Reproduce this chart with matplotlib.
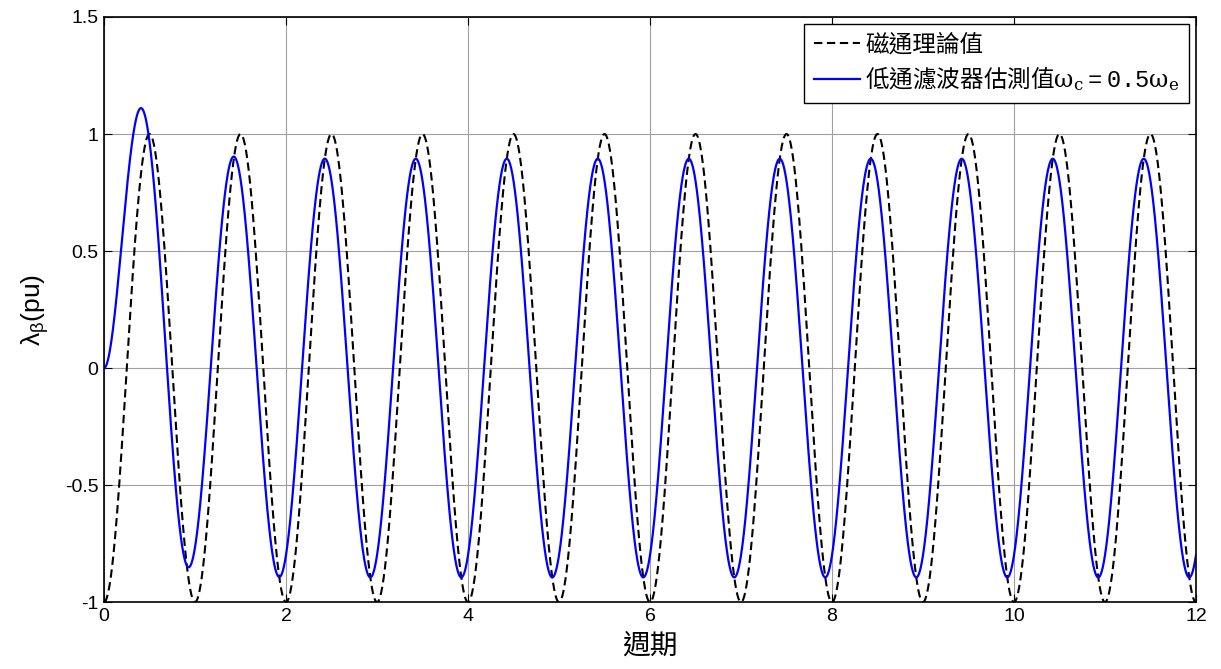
import numpy as np
import matplotlib
matplotlib.use("Agg")
import matplotlib.pyplot as plt

# ---- data ----
n_cycles = 12                 # x axis: 0..12 cycles
wc_over_we = 0.5              # legend: omega_c = 0.5 omega_e
flux_amplitude = 1.0          # theoretical flux peak (pu)
samples_per_cycle = 400
x_ticks = [0, 2, 4, 6, 8, 10, 12]
y_ticks = [-1, -0.5, 0, 0.5, 1, 1.5]
y_tick_labels = ["-1", "-0.5", "0", "0.5", "1", "1.5"]
legend_labels = ["磁通理論值",
                 r"低通濾波器估測值$\mathrm{\omega}_{\mathrm{c}}\mathtt{{=}0.5}\mathrm{\omega}_{\mathrm{e}}$"]
xlabel = "週期"
ylabel = r"λ$_{\mathregular{β}}$(pu)"

# ---- simulate: theoretical flux and first-order LPF estimate of the back-EMF integral ----
t = np.linspace(0, n_cycles, n_cycles * samples_per_cycle + 1)
we = 2 * np.pi
wc = wc_over_we * we
flux = -flux_amplitude * np.cos(we * t)
emf = flux_amplitude * we * np.sin(we * t)
dt = t[1] - t[0]
est = np.zeros_like(t)
a = np.exp(-wc * dt)
for k in range(1, len(t)):
    est[k] = a * est[k - 1] + (1 - a) / wc * 0.5 * (emf[k] + emf[k - 1])

plt.rcParams['font.family'] = ['Liberation Sans', 'Noto Sans CJK TC', 'DejaVu Sans']
plt.rcParams['mathtext.fontset'] = 'custom'
plt.rcParams['mathtext.rm'] = 'DejaVu Serif'
plt.rcParams['mathtext.it'] = 'DejaVu Serif:italic'
plt.rcParams['mathtext.tt'] = 'Liberation Mono'

fig = plt.figure(figsize=(12.21, 6.69), dpi=100)
ax = fig.add_axes([0.0852, 0.100, 0.8943, 0.8746])

ax.plot(t, flux, color='black', linestyle=(0, (4, 2.2)), linewidth=1.5, label=legend_labels[0])
ax.plot(t, est, color='#0000ff', linewidth=1.6, label=legend_labels[1])

ax.set_xlim(0, n_cycles)
ax.set_ylim(-1, 1.5)
ax.set_xticks(x_ticks)
ax.set_yticks(y_ticks)
ax.set_yticklabels(y_tick_labels)
ax.tick_params(direction='in', length=6, labelsize=14, top=True, right=True, width=0.8, pad=4)
ax.grid(True, color='#a0a0a0', linewidth=0.8)
ax.set_axisbelow(True)
for s in ax.spines.values():
    s.set_linewidth(1.2)

ax.set_xlabel(xlabel, fontsize=20, family=['Noto Sans CJK TC'], labelpad=4)
ax.set_ylabel(ylabel, fontsize=19, labelpad=10)

leg = ax.legend(loc='upper right', prop={'family': 'Noto Sans CJK TC', 'size': 17},
                frameon=True, fancybox=False, edgecolor='black', framealpha=1,
                handlelength=1.95, handletextpad=0.25, borderaxespad=0.28, borderpad=0.4, labelspacing=0.35)
leg.get_frame().set_linewidth(1.0)

fig.savefig("out.png", dpi=100)
